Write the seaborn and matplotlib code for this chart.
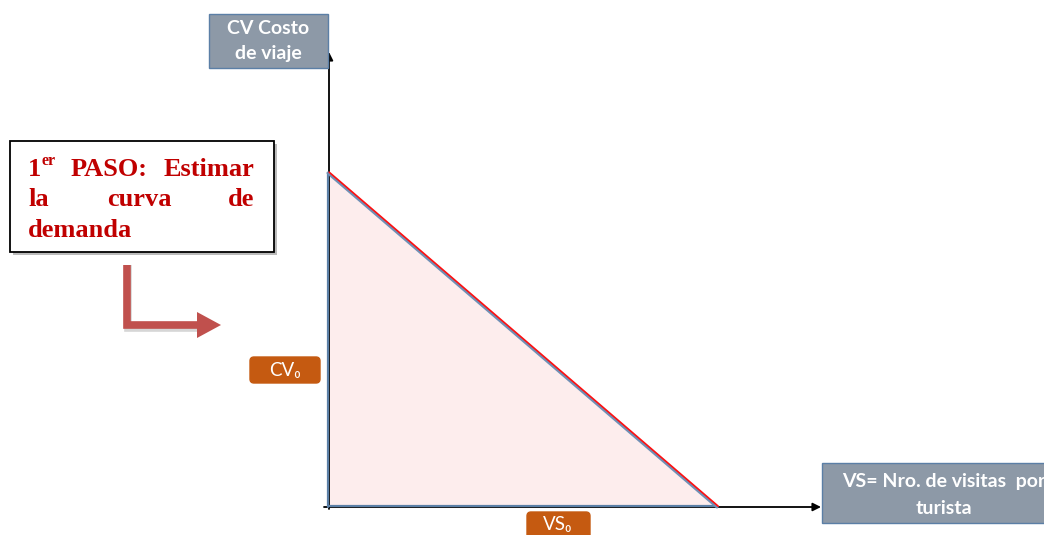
import numpy as np
import pandas as pd
import seaborn as sns
import matplotlib
matplotlib.use("Agg")
from matplotlib import pyplot as plt
from matplotlib.patches import Rectangle, FancyBboxPatch, Polygon

# Demand curve data (units: CV cost of travel vs number of visits)
visitas = [0, 389]
costo = [334, 0]
eje_y_titulo = ["CV Costo", "de viaje"]
eje_x_titulo = ["VS= Nro. de visitas  por", "turista"]
cv0_label = "CV\u2080"
vs0_label = "VS\u2080"

sns.set_theme(style="white")
plt.rcParams["font.family"] = ["Lato", "DejaVu Sans"]

fig = plt.figure(figsize=(10.44, 5.35), dpi=100)
ax = fig.add_axes([0, 0, 1, 1])
ax.set_xlim(-328, 716)
ax.set_ylim(-28, 507)
ax.axis("off")

# helper: image pixel -> axes data
def P(px, py):
    return px - 328, 507 - py

df = pd.DataFrame({"VS": visitas, "CV": costo})

# consumer surplus area under the demand
ax.fill_between(df["VS"], df["CV"], 0, color="#fdeded", zorder=1)

# axes arrows
ax.annotate("", xy=(1, 455), xytext=(1, -2),
            arrowprops=dict(arrowstyle="-|>", color="black", lw=1.3,
                            mutation_scale=12, shrinkA=0, shrinkB=0), zorder=3)
ax.annotate("", xy=(493, 0), xytext=(-4, 0),
            arrowprops=dict(arrowstyle="-|>", color="black", lw=1.3,
                            mutation_scale=12, shrinkA=0, shrinkB=0), zorder=3)

# triangle edges (blue-grey) and demand line
ax.plot([0, 0], [0, df["CV"].max()], color="#5b7fa6", lw=1.6, zorder=4)
ax.plot([0, df["VS"].max()], [1, 1], color="#5b7fa6", lw=1.6, zorder=4)
sns.lineplot(data=df, x="VS", y="CV", color="#6f8fb5", lw=2.2, ax=ax, zorder=5)
sns.lineplot(x=np.array(visitas) + 1.2, y=np.array(costo) + 0.8, color="#ff1010",
             lw=1.2, ax=ax, zorder=6)
ax.set_xlabel("")
ax.set_ylabel("")
ax.set_xlim(-328, 716)
ax.set_ylim(-28, 507)


def caja(x0, y0, x1, y1, fc, ec, rounded=False, lw=1.0):
    x, y = P(x0, y1)
    if rounded:
        p = FancyBboxPatch((x + 4, y + 4), x1 - x0 - 8, y1 - y0 - 8,
                           boxstyle="round,pad=4", fc=fc, ec=ec, lw=lw, zorder=7)
    else:
        p = Rectangle((x, y), x1 - x0, y1 - y0, fc=fc, ec=ec, lw=lw, zorder=7)
    ax.add_patch(p)


blanco = dict(ha="center", va="center", color="white", fontsize=14,
              fontweight="bold", zorder=8)

# axis title boxes
caja(209, 14, 328, 68, "#8d99a7", "#5b7fa6")
ax.text(*P(268.5, 28), eje_y_titulo[0], **blanco)
ax.text(*P(268.5, 54), eje_y_titulo[1], **blanco)
caja(822, 463, 1068, 523, "#8d99a7", "#5b7fa6")
ax.text(*P(944, 482), eje_x_titulo[0], **blanco)
ax.text(*P(944, 508), eje_x_titulo[1], **blanco)

# CV0 / VS0 labels
caja(250, 357, 320, 383, "#c55a11", "#c55a11", rounded=True)
ax.text(*P(285, 370), cv0_label, ha="center", va="center", color="white",
        fontsize=13.5, zorder=8)
caja(527, 512, 590, 545, "#c55a11", "#c55a11", rounded=True)
ax.text(*P(558, 525), vs0_label, ha="center", va="center", color="white",
        fontsize=13.5, zorder=8)

# step box
sx, sy = P(13, 255)
ax.add_patch(Rectangle((sx, sy), 264, 111, fc="#bbbbbb", ec="none", zorder=6))
caja(10, 141, 274, 252, "white", "black", lw=1.3)
rojo = "#c00000"
serif = dict(family=["Liberation Serif", "DejaVu Serif"], fontweight="bold",
             color=rojo, fontsize=19, va="baseline", zorder=8)
ax.text(*P(28, 176), "1", ha="left", **serif)
ax.text(*P(41, 165), "er", ha="left", **{**serif, "fontsize": 11.5})
ax.text(*P(71, 176), "PASO:", ha="left", **serif)
ax.text(*P(254, 176), "Estimar", ha="right", **serif)
ax.text(*P(28, 206), "la", ha="left", **serif)
ax.text(*P(139, 206), "curva", ha="center", **serif)
ax.text(*P(254, 206), "de", ha="right", **serif)
ax.text(*P(28, 237), "demanda", ha="left", **serif)

# red L arrow
lx = [P(128, 328)[0], P(128, 328)[0], P(200, 328)[0]]
ly = [P(130, 265)[1], P(130, 328)[1], P(200, 328)[1]]
ax.plot(lx, ly, color="#999999", lw=5.5, alpha=0.4, solid_joinstyle="miter",
        solid_capstyle="butt", zorder=6)
lx = [P(127, 265)[0], P(127, 325)[0], P(199, 325)[0]]
ly = [P(127, 265)[1], P(127, 325)[1], P(199, 325)[1]]
ax.plot(lx, ly, color="#c0504d", lw=5.5, solid_joinstyle="miter",
        solid_capstyle="butt", zorder=7)
ax.add_patch(Polygon([P(197, 312), P(221, 325), P(197, 338)], closed=True,
                     fc="#c0504d", ec="none", zorder=7))

fig.savefig("out.png", dpi=100)
